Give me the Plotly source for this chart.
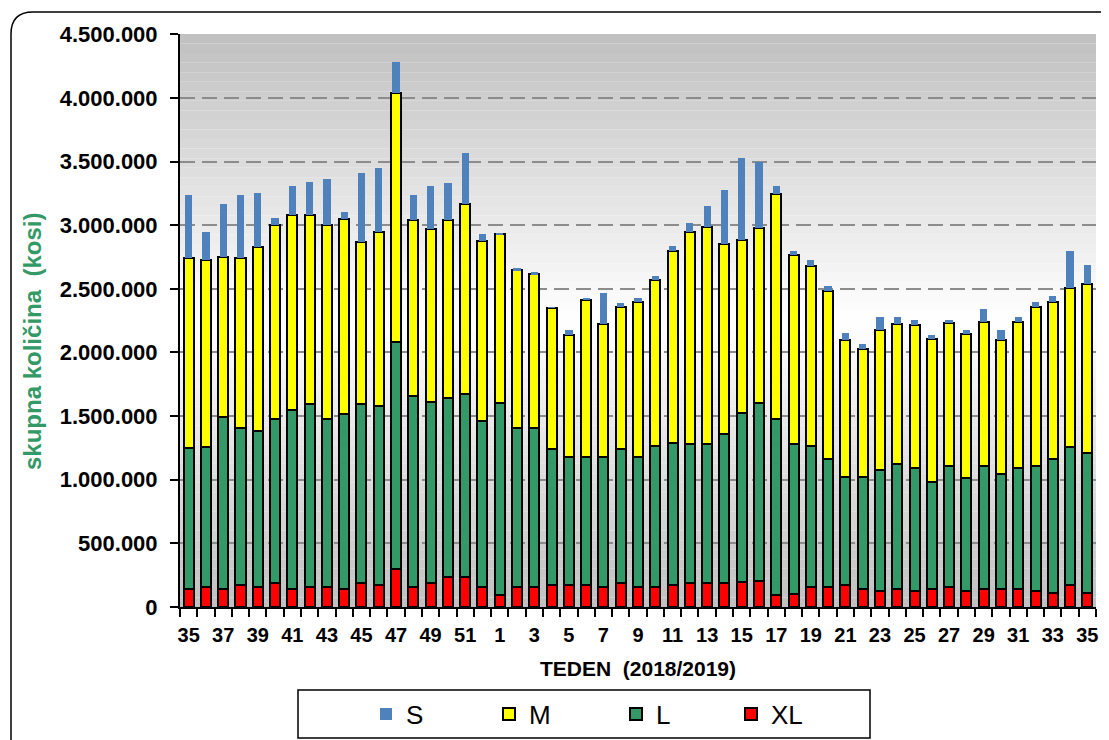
import plotly.graph_objects as go

# ---------------- data ----------------
weeks = list(range(35, 53)) + list(range(1, 36))  # TEDEN 2018/2019
xl_k = [145, 157, 141, 173, 157, 188, 141, 157, 157, 141, 188, 173, 298, 157, 188, 236, 236, 157,
        94, 157, 157, 173, 173, 173, 157, 188, 157, 157, 173, 188, 188, 188, 196, 204, 94, 102,
        157, 157, 173, 141, 126, 141, 126, 141, 157, 126, 141, 141, 141, 126, 110, 173, 110]
l_k = [1105, 1099, 1349, 1237, 1223, 1292, 1406, 1437, 1323, 1374, 1406, 1405, 1782, 1500, 1422, 1404, 1434, 1303,
       1506, 1248, 1248, 1067, 1007, 1007, 1023, 1052, 1023, 1107, 1117, 1092, 1092, 1172, 1329, 1396, 1386, 1178,
       1107, 1003, 847, 879, 949, 979, 964, 839, 950, 887, 966, 903, 949, 981, 1050, 1083, 1100]
m_k = [1490, 1469, 1260, 1330, 1450, 1520, 1533, 1486, 1520, 1535, 1276, 1372, 1960, 1383, 1360, 1400, 1500, 1415,
       1330, 1240, 1210, 1110, 955, 1230, 1040, 1120, 1215, 1306, 1510, 1670, 1705, 1490, 1355, 1375, 1765, 1485,
       1416, 1320, 1075, 1010, 1105, 1100, 1125, 1125, 1123, 1132, 1133, 1056, 1150, 1253, 1240, 1249, 1325]
s_k = [495, 220, 420, 495, 420, 60, 230, 260, 360, 50, 540, 500, 240, 195, 340, 290, 400, 55,
       10, 15, 15, 5, 45, 20, 245, 25, 35, 30, 35, 70, 165, 425, 650, 520, 65, 35,
       50, 40, 55, 40, 100, 60, 40, 30, 25, 35, 100, 80, 40, 35, 40, 295, 155]

# name, values, colour, outlined, legend item width
series = [
    ("XL", xl_k, "#ff0000", True, 60),
    ("L", l_k, "#339966", True, 70),
    ("M", m_k, "#ffff00", True, 82),
    ("S", s_k, "#4f81bd", False, 78),
]

x = list(range(len(weeks)))
tick_idx = x[::2]
tick_txt = [str(weeks[i]) for i in tick_idx]

FONT = "Liberation Sans, Arial, sans-serif"

fig = go.Figure()
for name, vals, color, outlined, lw in series:
    fig.add_trace(go.Bar(
        x=x, y=[v * 1000 for v in vals], name=name,
        marker=dict(color=color,
                    line=dict(color="black", width=2 if outlined else 0)),
        width=0.58 if outlined else 0.42,
        legendwidth=lw,
    ))

# page body has an 8px margin: work in screenshot pixels, convert
OFF = 8
W, H = 1109 - OFF, 740 - OFF
PX0, PX1, PY0, PY1 = 180, 1096, 34, 607   # plot area in screenshot pixels


def px(p):
    return (p - PX0) / (PX1 - PX0)


def py(p):
    return (PY1 - p) / (PY1 - PY0)


# plot-area gradient background (grey - white - grey)
shapes = []
n = 60
for k in range(n):
    t = (k + 0.5) / n
    d = abs(t - 0.5) / 0.5
    c = int(round(255 - 63 * d))
    shapes.append(dict(type="rect", xref="paper", yref="paper",
                       x0=0, x1=1, y0=k / n, y1=(k + 1) / n,
                       fillcolor=f"rgb({c},{c},{c})", line=dict(width=0),
                       layer="below"))

# legend box
shapes.append(dict(type="rect", xref="paper", yref="paper",
                   x0=px(298), x1=px(870), y0=py(738), y1=py(690),
                   line=dict(color="black", width=1.5), fillcolor="white", layer="below"))

# outer rounded frame
rx = 22 / (PX1 - PX0)
ry = 22 / (PY1 - PY0)
x0f, ytf = px(11), py(12)
path = (f"M {x0f},{py(760)} L {x0f},{ytf - ry} Q {x0f},{ytf} {x0f + rx},{ytf} "
        f"L {px(1130)},{ytf}")
shapes.append(dict(type="path", xref="paper", yref="paper", path=path,
                   line=dict(color="black", width=1.5)))

fig.update_layout(
    width=W, height=H,
    barmode="stack",
    separators=",.",
    paper_bgcolor="white",
    plot_bgcolor="rgba(0,0,0,0)",
    margin=dict(l=PX0 - OFF, r=W - (PX1 - OFF), t=PY0 - OFF, b=H - (PY1 - OFF),
                autoexpand=False),
    font=dict(family=FONT, color="black"),
    shapes=shapes,
    annotations=[dict(text="skupna količina  (kosi)", textangle=-90,
                      xref="paper", yref="paper", x=px(32), y=py(342),
                      xanchor="center", yanchor="middle", showarrow=False,
                      font=dict(size=24, family=FONT, color="#339966", weight="bold"))],
    showlegend=True,
    legend=dict(orientation="h", traceorder="reversed",
                x=px(366), xanchor="left", y=py(714), yanchor="middle",
                font=dict(size=26, family=FONT),
                bgcolor="rgba(0,0,0,0)", borderwidth=0),
    xaxis=dict(
        range=[-0.5, len(weeks) - 0.5],
        tickmode="array", tickvals=tick_idx, ticktext=tick_txt,
        ticks="", tickfont=dict(size=20, family=FONT, weight="bold"),
        ticklabelstandoff=9,
        showline=True, linecolor="black", linewidth=2,
        showgrid=False, zeroline=False,
        minor=dict(tickmode="linear", tick0=-0.5, dtick=1, ticks="outside",
                   ticklen=8, tickcolor="black", tickwidth=1.5, showgrid=False),
        title=dict(text="TEDEN  (2018/2019)", standoff=16,
                   font=dict(size=21, family=FONT, weight="bold")),
        automargin=False,
    ),
    yaxis=dict(
        range=[0, 4.502e6],
        tickmode="linear", tick0=0, dtick=500000, tickformat=",d",
        ticks="outside", ticklen=8, tickcolor="black", tickwidth=1.5,
        tickfont=dict(size=22, family=FONT, weight="bold"),
        ticklabelstandoff=8,
        showline=True, linecolor="black", linewidth=2,
        showgrid=True, gridcolor="#8c8c8c", gridwidth=2, griddash="15px,7px",
        zeroline=False,
        automargin=False,
    ),
)

fig.write_html("out.html")
